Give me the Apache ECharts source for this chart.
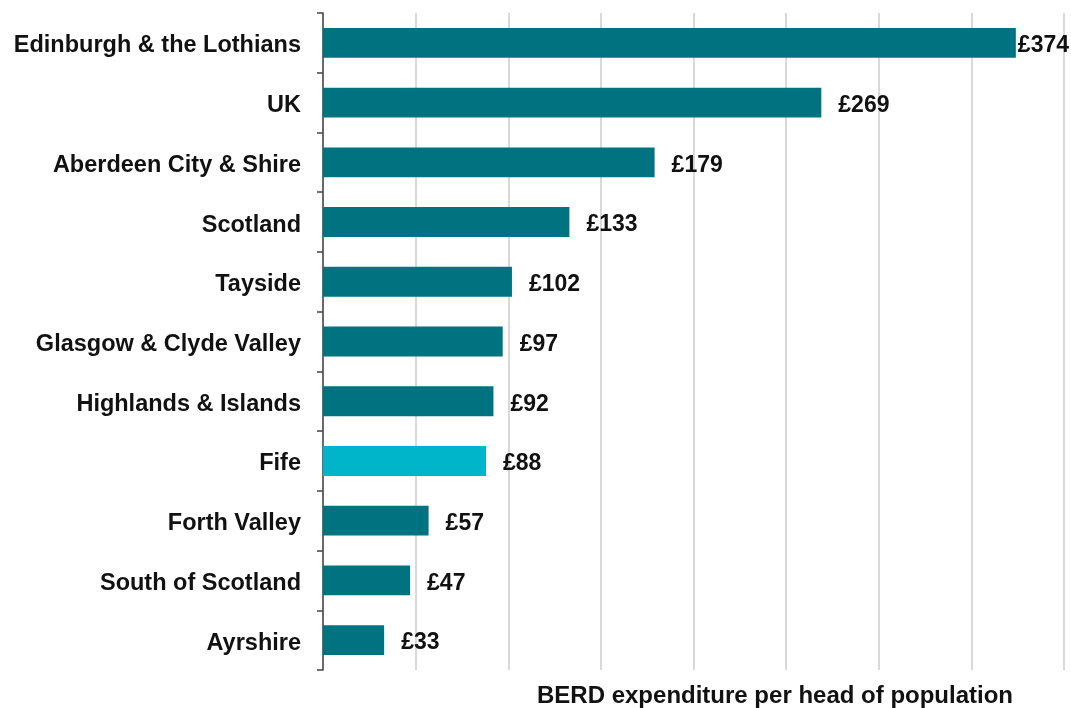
<!DOCTYPE html>
<html lang="en">
<head>
    <meta charset="UTF-8">
    <title>BERD per head</title>
    <script src="https://cdn.jsdelivr.net/npm/echarts@6/dist/echarts.min.js"></script>
    <style>
        html, body { margin: 0; padding: 0; background: #fff; }
        #chart { width: 1071px; height: 708px; }
    </style>
</head>
<body>
    <div id="chart"></div>
</body>
<script type="application/javascript">
    // regions, top to bottom
    var regions = ["Edinburgh & the Lothians", "UK", "Aberdeen City & Shire", "Scotland", "Tayside",
        "Glasgow & Clyde Valley", "Highlands & Islands", "Fife", "Forth Valley", "South of Scotland", "Ayrshire"];
    var spend = [374, 269, 179, 133, 102, 97, 92, 88, 57, 47, 33];
    var highlight = "Fife";

    var chart = echarts.init(document.getElementById("chart"));

    var barData = [];
    for (var i = 0; i < regions.length; i++) {
        var item = { value: spend[i] };
        if (regions[i] === highlight) {
            item.itemStyle = { color: "#00b5c9" };
        }
        if (i === 0) {
            item.label = { distance: 2 }; // squeezed against the edge
        }
        barData.push(item);
    }

    var option = {
        animation: false,
        textStyle: { fontFamily: "Liberation Sans, Arial, sans-serif" },
        title: {
            text: "BERD expenditure per head of population",
            left: 532,
            top: 679,
            textStyle: { fontSize: 24, fontWeight: "bold", color: "#111" }
        },
        grid: { left: 323, right: 7, top: 13, bottom: 38 },
        xAxis: {
            type: "value",
            min: 0,
            max: 400,
            interval: 50,
            axisLine: { show: false },
            axisTick: { show: false },
            axisLabel: { show: false },
            splitLine: { lineStyle: { color: "#d9d9d9", width: 2 } }
        },
        yAxis: {
            type: "category",
            inverse: true,
            data: regions,
            axisLine: { show: true, lineStyle: { color: "#444", width: 1.5 } },
            axisTick: { show: true, length: 6, lineStyle: { color: "#444", width: 1.5 } },
            axisLabel: {
                margin: 22,
                formatter: function (v) { return "{c|" + v + "}"; },
                rich: {
                    c: { fontSize: 23.5, fontWeight: "bold", color: "#111", padding: [6, 0, 0, 0] }
                }
            }
        },
        series: [
            {
                name: "BERD",
                type: "bar",
                data: barData,
                barWidth: "50%",
                itemStyle: { color: "#007380" },
                label: {
                    show: true,
                    position: "right",
                    distance: 17,
                    offset: [0, 3],
                    fontSize: 23,
                    fontWeight: "bold",
                    color: "#111",
                    formatter: function (p) { return "£" + p.value; }
                }
            }
        ]
    };
    chart.setOption(option);
</script>
</html>
